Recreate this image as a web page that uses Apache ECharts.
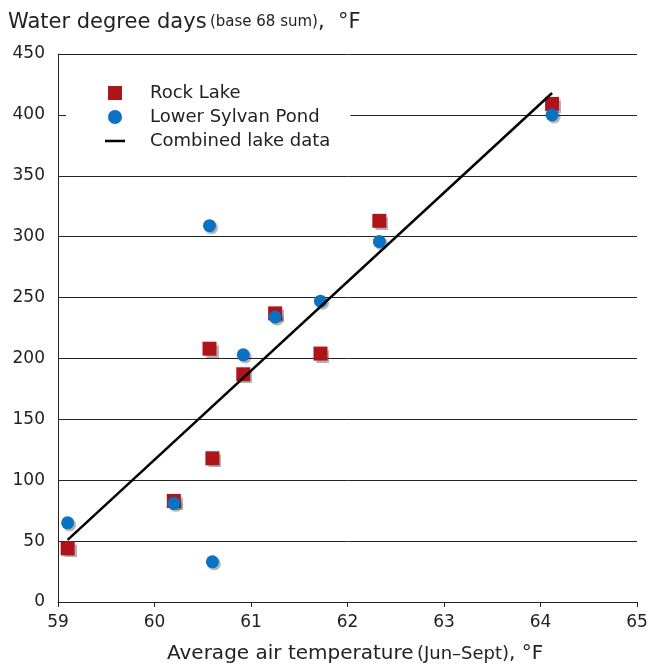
<!DOCTYPE html>
<html>
<head>
<meta charset="utf-8">
<script src="https://cdn.jsdelivr.net/npm/echarts@6/dist/echarts.min.js"></script>
<style>
  html, body { margin: 0; padding: 0; background: #fff; }
  #chart { width: 652px; height: 668px; }
</style>
</head>
<body>
<div id="chart"></div>
<script>
// air temperature (x) and water degree days (y)
const rockX = [59.1, 60.2, 60.57, 60.6, 60.92, 61.25, 61.72, 62.33, 64.12];
const rockY = [44, 83, 208, 118, 187, 237, 204, 313, 409];
const sylvanX = [59.1, 60.2, 60.57, 60.6, 60.92, 61.25, 61.72, 62.33, 64.12];
const sylvanY = [65, 81, 309, 33, 203, 234, 247, 296, 400];
const fitX = [59.1, 64.12];
const fitY = [51, 418];
const xTicks = [59, 60, 61, 62, 63, 64, 65];

const font = 'DejaVu Sans, sans-serif';
const txt = '#222';

const chart = echarts.init(document.getElementById('chart'));

const shadow = {
  opacity: 1,
  shadowColor: 'rgba(0,0,0,0.3)',
  shadowOffsetX: 2,
  shadowOffsetY: 2,
  shadowBlur: 1
};

const option = {
  animation: false,
  grid: { left: 58, right: 15, top: 54, bottom: 66 },
  textStyle: { fontFamily: font },
  legend: {
    left: 66,
    top: 80,
    orient: 'vertical',
    backgroundColor: '#fff',
    padding: [4, 20, 4, 39],
    itemWidth: 20,
    itemHeight: 14,
    itemGap: 6,
    textStyle: { fontSize: 18, color: txt, fontFamily: font, padding: [0, 0, 0, 20] },
    data: [
      { name: 'Rock Lake', icon: 'path://M0,0L10,0L10,10L0,10Z' },
      { name: 'Lower Sylvan Pond', icon: 'circle' },
      { name: 'Combined lake data', icon: 'path://M0,0L20,0L20,2.5L0,2.5Z' }
    ]
  },
  xAxis: {
    type: 'value',
    min: xTicks[0],
    max: xTicks[xTicks.length - 1],
    interval: 1,
    axisLine: { show: true, lineStyle: { color: '#222', width: 1 } },
    axisTick: { show: true, length: 5, lineStyle: { color: '#222' } },
    axisLabel: { fontSize: 17, color: txt, margin: 12, fontFamily: font },
    splitLine: { show: false }
  },
  yAxis: {
    type: 'value',
    min: 0,
    max: 450,
    interval: 50,
    axisLine: { show: true, lineStyle: { color: '#222', width: 1 } },
    axisTick: { show: false },
    axisLabel: { fontSize: 17, color: txt, margin: 13, fontFamily: font },
    splitLine: { show: true, lineStyle: { color: '#222', width: 1 } }
  },
  graphic: [
    {
      type: 'text',
      left: 8,
      top: 12,
      style: {
        text: '{a|Water degree days} {b|(base 68 sum)}{a|,  °F}',
        rich: {
          a: { fontSize: 21, fill: txt, fontFamily: font },
          b: { fontSize: 15, fill: txt, fontFamily: font }
        }
      }
    },
    {
      type: 'text',
      left: 167,
      top: 644,
      style: {
        text: '{a|Average air temperature} {b|(Jun–Sept)}{a|, °F}',
        rich: {
          a: { fontSize: 20, fill: txt, fontFamily: font },
          b: { fontSize: 18, fill: txt, fontFamily: font }
        }
      }
    }
  ],
  series: [
    {
      name: 'Rock Lake',
      type: 'scatter',
      symbol: 'rect',
      symbolSize: 14,
      itemStyle: Object.assign({ color: '#b0141b' }, shadow),
      data: rockX.map((x, i) => [x, rockY[i]])
    },
    {
      name: 'Lower Sylvan Pond',
      type: 'scatter',
      symbol: 'circle',
      symbolSize: 13,
      itemStyle: Object.assign({ color: '#0a72c2' }, shadow),
      data: sylvanX.map((x, i) => [x, sylvanY[i]])
    },
    {
      name: 'Combined lake data',
      type: 'line',
      symbol: 'none',
      z: 5,
      lineStyle: { color: '#000', width: 2.5 },
      itemStyle: { color: '#000' },
      data: fitX.map((x, i) => [x, fitY[i]])
    }
  ]
};

chart.setOption(option);
</script>
</body>
</html>
